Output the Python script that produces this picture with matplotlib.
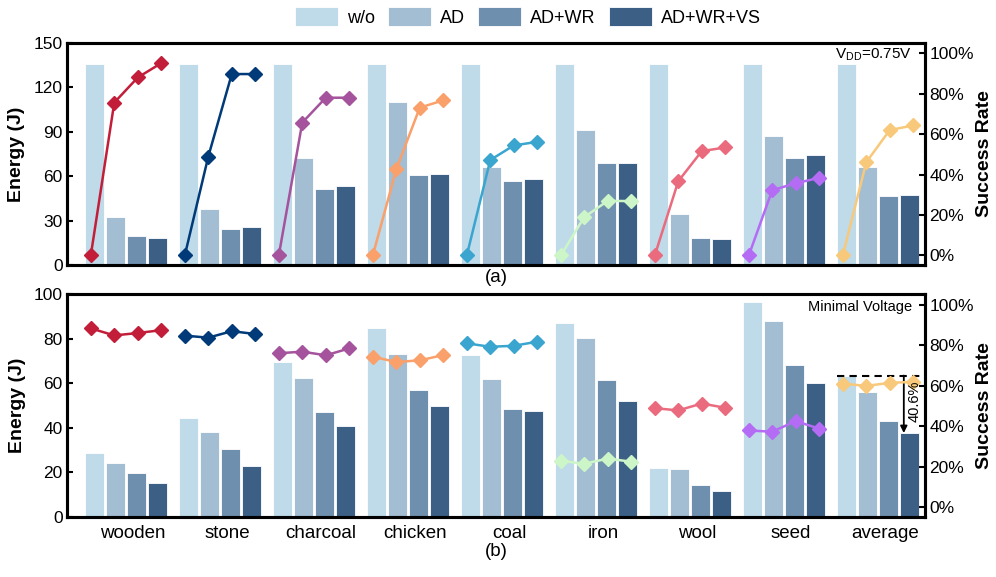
import matplotlib
matplotlib.use("Agg")
import matplotlib.pyplot as plt
import numpy as np

plt.rcParams['font.family'] = ['Liberation Sans', 'DejaVu Sans']
plt.rcParams['mathtext.fontset'] = 'custom'
plt.rcParams['mathtext.rm'] = 'Liberation Sans'

categories = ["wooden", "stone", "charcoal", "chicken", "coal", "iron", "wool", "seed", "average"]
methods = ["w/o", "AD", "AD+WR", "AD+WR+VS"]
bar_colors = ["#BFDAE9", "#A3BDD2", "#6E8FAE", "#3C5F86"]
line_colors = ["#C21E3A", "#003A78", "#A4539C", "#F9A06B", "#3AA6CF",
               "#CCF5C8", "#EA6B7E", "#B46CF5", "#F8C97A"]

# (a) VDD = 0.75V : energy (J) per method, per task
energy_a_wo   = [135.6, 135.6, 135.6, 135.6, 135.6, 135.6, 135.6, 135.6, 135.6]
energy_a_ad   = [32.6, 37.7, 72.1, 109.8, 66.2, 91.4, 34.6, 87.1, 66.2]
energy_a_adwr = [19.5, 24.5, 51.0, 60.6, 57.0, 68.5, 18.2, 72.1, 46.3]
energy_a_vs   = [18.2, 25.6, 53.4, 61.3, 57.9, 68.7, 17.5, 74.1, 47.2]
# success rate (%) for w/o, AD, AD+WR, AD+WR+VS
success_a = [
    [0, 75.6, 88.0, 95.1],
    [0, 48.9, 89.7, 89.7],
    [0, 65.7, 78.0, 78.0],
    [0, 42.6, 73.1, 76.7],
    [0, 47.2, 54.4, 56.2],
    [0, 19.0, 27.0, 26.9],
    [0, 36.7, 51.6, 53.4],
    [0, 32.3, 35.7, 38.4],
    [0, 46.1, 62.0, 64.3],
]

# (b) Minimal voltage
energy_b_wo   = [28.9, 44.3, 69.5, 84.9, 72.8, 87.3, 22.0, 96.6, 63.5]
energy_b_ad   = [24.4, 38.0, 62.6, 73.1, 62.1, 80.5, 21.7, 88.0, 56.3]
energy_b_adwr = [19.6, 30.7, 47.0, 56.9, 48.4, 61.4, 14.4, 68.1, 43.3]
energy_b_vs   = [15.1, 22.9, 41.0, 50.0, 47.6, 52.1, 11.5, 60.2, 37.7]
success_b = [
    [88.4, 84.9, 86.1, 87.5],
    [84.8, 83.8, 87.0, 85.6],
    [76.1, 76.9, 75.1, 78.5],
    [74.4, 71.8, 72.6, 75.2],
    [81.0, 79.3, 79.8, 81.8],
    [23.0, 21.6, 24.1, 22.6],
    [49.0, 47.9, 51.3, 49.2],
    [38.0, 37.4, 42.6, 38.9],
    [61.1, 60.0, 61.5, 62.0],
]
reduction_label = "40.6%"

fig = plt.figure(figsize=(9.96, 5.77), dpi=100)
W, H = 996, 577
def rect(l, t, r, b):
    return [l / W, 1 - b / H, (r - l) / W, (b - t) / H]

ax_a = fig.add_axes(rect(67, 42.7, 925, 265))
ax_b = fig.add_axes(rect(67, 294.3, 925, 517))

x = np.arange(len(categories))
bar_off = np.array([-1.5, -0.5, 0.5, 1.5]) * 0.223
bar_w = 0.205
line_off = np.array([-1.5, -0.5, 0.5, 1.5]) * 0.25

def draw(ax, energies, succ, ymax, yticks):
    for k, (vals, c) in enumerate(zip(energies, bar_colors)):
        ax.bar(x + bar_off[k], vals, width=bar_w, color=c, edgecolor='white',
               linewidth=0.6, label=methods[k], zorder=2)
    ax.set_xlim(-0.628, 8.5)
    ax.set_ylim(0, ymax)
    ax.set_yticks(yticks)
    ax.tick_params(axis='y', direction='in', length=4, width=1.5, labelsize=12.5, pad=3)
    ax.tick_params(axis='x', length=0, labelsize=13.5, pad=6)
    ax.set_ylabel("Energy (J)", fontsize=14, fontweight='bold', labelpad=6)
    ax2 = ax.twinx()
    for i in range(len(categories)):
        ax2.plot(x[i] + line_off, np.array(succ[i]) / 100.0, color=line_colors[i],
                 marker='D', markersize=7, linewidth=1.8, zorder=3)
    ax2.set_ylim(-0.047, 1.052)
    ax2.set_yticks([0, 0.2, 0.4, 0.6, 0.8, 1.0])
    ax2.set_yticklabels(["0%", "20%", "40%", "60%", "80%", "100%"])
    ax2.tick_params(axis='y', direction='in', length=4, width=1.5, labelsize=12.5, pad=3)
    ax2.set_ylabel("Success Rate", fontsize=14, fontweight='bold', labelpad=2)
    for a in (ax, ax2):
        for s in a.spines.values():
            s.set_linewidth(2.2)
    return ax2

ax2a = draw(ax_a, [energy_a_wo, energy_a_ad, energy_a_adwr, energy_a_vs], success_a,
            150, [0, 30, 60, 90, 120, 150])
ax_a.set_xticks(x + 0.075)
ax_a.set_xticklabels([])
ax2b = draw(ax_b, [energy_b_wo, energy_b_ad, energy_b_adwr, energy_b_vs], success_b,
            100, [0, 20, 40, 60, 80, 100])
ax_b.set_xticks(x + 0.075)
ax_b.set_xticklabels(categories)

ax2a.text(0.985, 0.985, r'V$_{\rm DD}$=0.75V', transform=ax_a.transAxes,
          ha='right', va='top', fontsize=11)
ax2b.text(0.985, 0.975, 'Minimal Voltage', transform=ax_b.transAxes,
          ha='right', va='top', fontsize=10.5)

# average reduction annotation
i_avg = len(categories) - 1
top_v = energy_b_wo[i_avg]
low_v = energy_b_vs[i_avg]
x_left = x[i_avg] + bar_off[0] - bar_w / 2
x_right = x[i_avg] + bar_off[3] + bar_w / 2 + 0.02
ax_b.plot([x_left, x_right], [top_v, top_v], color='black', linestyle=(0, (3.5, 2.5)),
          linewidth=1.5, zorder=4)
x_arr = x[i_avg] + bar_off[3] - 0.06
ax_b.annotate('', xy=(x_arr, low_v), xytext=(x_arr, top_v),
              arrowprops=dict(arrowstyle='-|>', color='black', lw=1.3,
                              mutation_scale=10, shrinkA=0, shrinkB=0), zorder=5)
ax2b.text(x_arr + 0.11, 52.0, reduction_label, rotation=90, transform=ax_b.transData,
          ha='center', va='center', fontsize=10.5, zorder=6)

fig.text(0.498, 1 - 278 / H, "(a)", ha='center', va='center', fontsize=13.5)
fig.text(0.498, 1 - 552 / H, "(b)", ha='center', va='center', fontsize=13.5)

handles, labels = ax_a.get_legend_handles_labels()
fig.legend(handles, labels, loc='center', bbox_to_anchor=(528 / W, 1 - 17 / H), ncol=4,
           frameon=False, fontsize=13, handlelength=2.39, handleheight=1.17,
           handletextpad=0.5, columnspacing=0.72)

fig.savefig("out.png", dpi=100)
